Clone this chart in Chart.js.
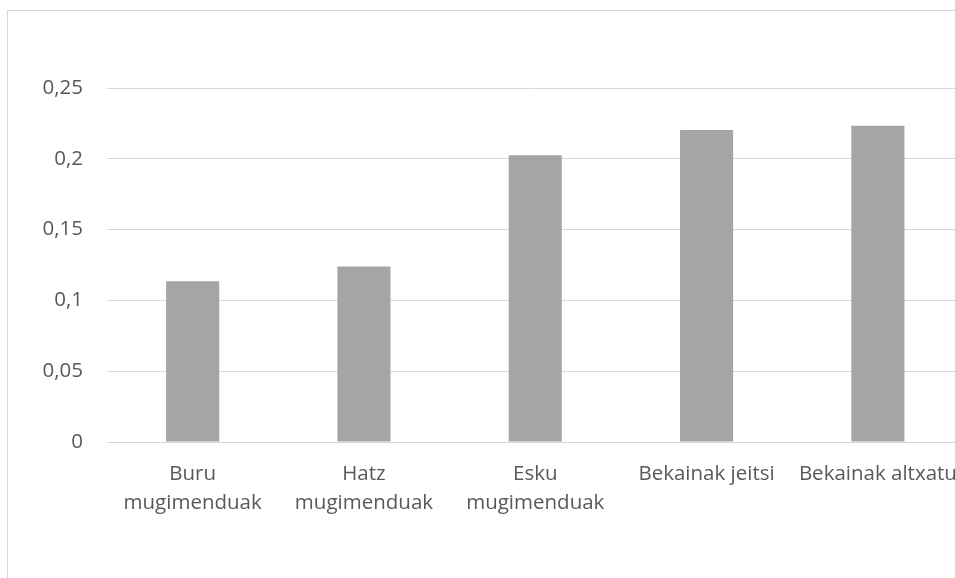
<!DOCTYPE html>
<html>
<head>
<meta charset="utf-8">
<script src="https://cdn.jsdelivr.net/npm/chart.js@4/dist/chart.umd.min.js"></script>
<style>
html,body{margin:0;padding:0;width:955px;height:578px;overflow:hidden;background:#fff;}
#frame{position:absolute;left:7px;top:10px;width:1100px;height:700px;border:1px solid #d9d9d9;box-sizing:border-box;}
#c{position:absolute;left:0;top:0;}
</style>
</head>
<body>
<div id="frame"></div>
<canvas id="c" width="975" height="578"></canvas>
<script>
const categories = [["Buru","mugimenduak"],["Hatz","mugimenduak"],["Esku","mugimenduak"],"Bekainak jeitsi","Bekainak altxatu"];
const values = [0.1135, 0.124, 0.2025, 0.2203, 0.2233];
const yTicks = [0, 0.05, 0.1, 0.15, 0.2, 0.25];

const FONT = "'Open Sans', 'Liberation Sans', sans-serif";
new Chart(document.getElementById('c'), {
  type: 'bar',
  data: {
    labels: categories,
    datasets: [{
      data: values,
      backgroundColor: '#a5a5a5',
      borderWidth: 0,
      categoryPercentage: 1,
      barPercentage: 0.31
    }]
  },
  options: {
    responsive: false,
    animation: false,
    events: [],
    layout: { padding: { left: 0, top: 88, right: 11, bottom: 0 } },
    plugins: { legend: { display: false }, tooltip: { enabled: false } },
    scales: {
      x: {
        grid: { display: false, drawTicks: false },
        border: { display: false },
        ticks: {
          color: '#595959',
          font: { family: FONT, size: 20.5, lineHeight: 1.45 },
          padding: 17,
          maxRotation: 0,
          minRotation: 0,
          autoSkip: false
        },
        afterFit: (s) => { s.height = 136; }
      },
      y: {
        min: 0,
        max: 0.25,
        afterBuildTicks: (s) => { s.ticks = yTicks.map(v => ({ value: v })); },
        grid: { color: '#d9d9d9', lineWidth: 1, drawTicks: false },
        border: { display: false },
        ticks: {
          color: '#595959',
          font: { family: FONT, size: 20.5 },
          padding: 24,
          callback: (v) => String(Math.round(v * 100) / 100).replace('.', ',')
        },
        afterFit: (s) => { s.width = 107; }
      }
    }
  }
});
</script>
</body>
</html>
